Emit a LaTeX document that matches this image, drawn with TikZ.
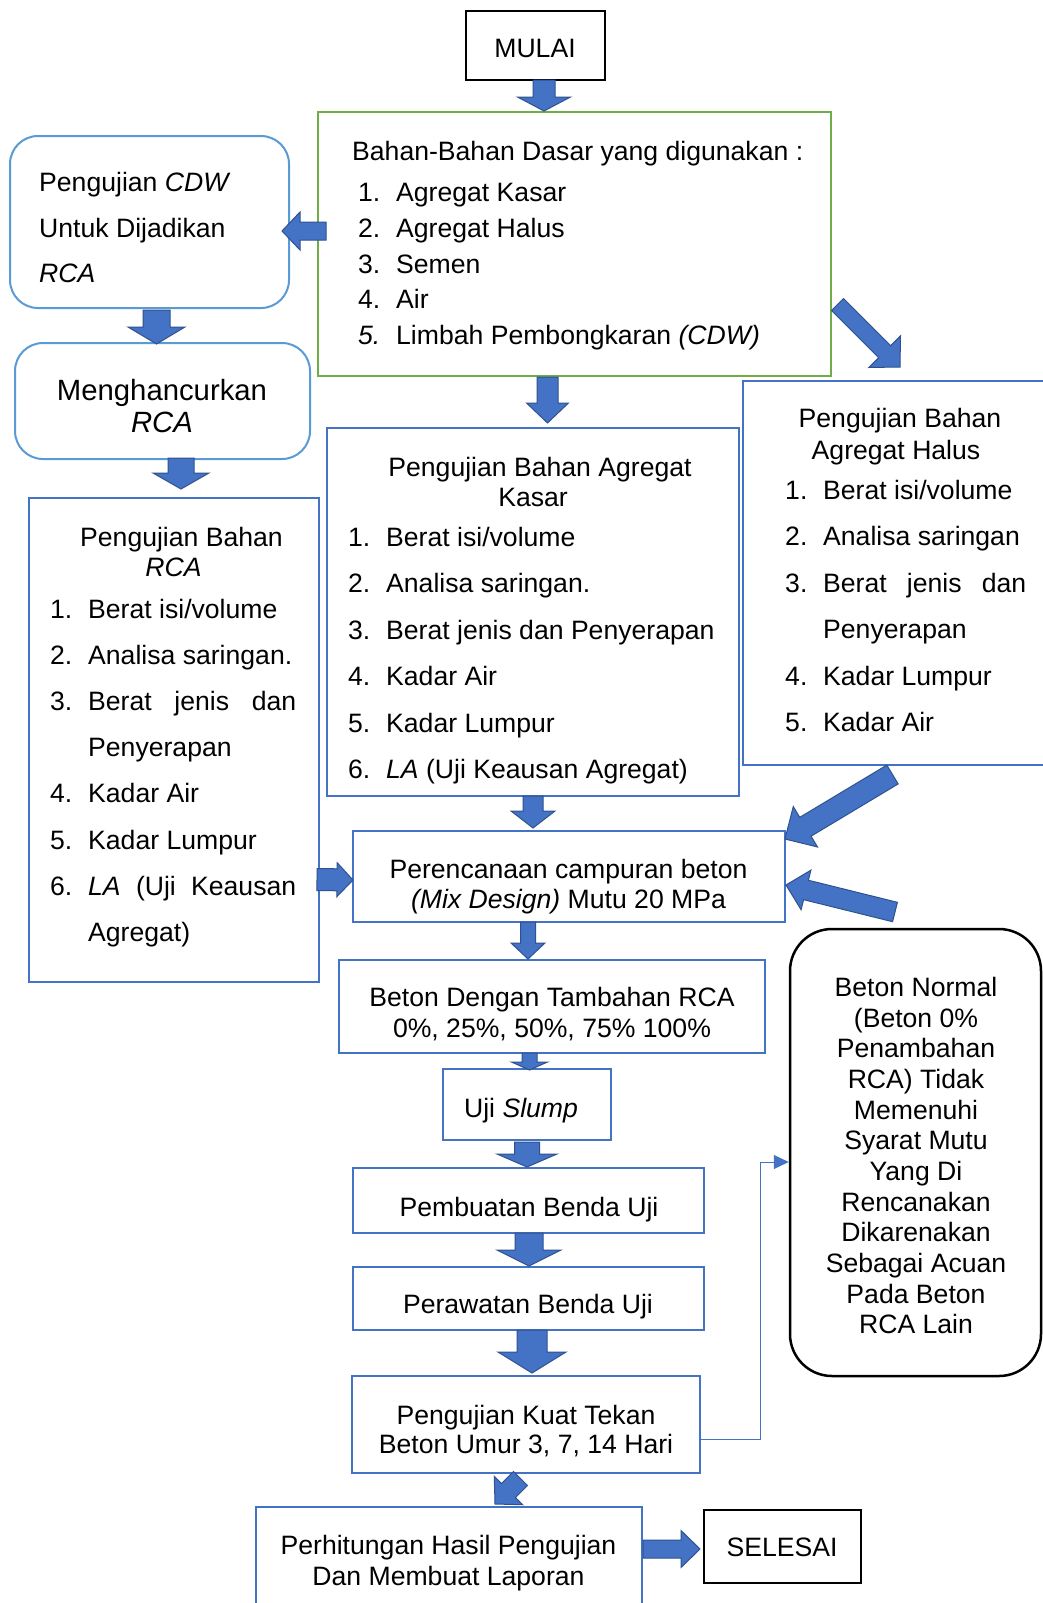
\documentclass[tikz,border=0pt]{standalone}
\usepackage{fontspec}
\setmainfont{Liberation Sans}
\usetikzlibrary{calc,arrows.meta}
\definecolor{bblue}{HTML}{4472C4}
\definecolor{dblue}{HTML}{2F528F}
\definecolor{lblue}{HTML}{5B9BD5}
\definecolor{ggreen}{HTML}{70AD47}
% block arrow: #1 tail, #2 tip, #3 shaft half width, #4 head half width, #5 head length
\newcommand{\blkarrow}[5]{%
  \coordinate (hb) at ($(#2)!#5pt!(#1)$);
  \draw[barr] ($(#1)!#3pt!90:(#2)$) -- ($(hb)!#3pt!-90:(#1)$) -- ($(hb)!#4pt!-90:(#1)$) -- (#2)
     -- ($(hb)!#4pt!90:(#1)$) -- ($(hb)!#3pt!90:(#1)$) -- ($(#1)!#3pt!-90:(#2)$) -- cycle;}
\newcommand{\nm}[1]{\makebox[38pt][l]{#1}}
\newcommand{\fz}[1]{\fontsize{26.6pt}{#1pt}\selectfont}
\begin{document}
\begin{tikzpicture}[x=1pt,y=-1pt,
  bx/.style={draw=bblue, line width=2pt, inner sep=0},
  rbx/.style={draw=lblue, line width=2pt, rounded corners=28pt, inner sep=0},
  kbx/.style={draw=black, line width=2.5pt, inner sep=0},
  gbx/.style={draw=ggreen, line width=2pt, inner sep=0},
  barr/.style={fill=bblue, draw=dblue, line width=1pt, line join=miter},
  conn/.style={draw=bblue, line width=1pt},
  tx/.style={inner sep=0, anchor=base, font=\fz{30.6}},
  tl/.style={inner sep=0, anchor=base west, font=\fz{30.6}}]
\useasboundingbox (0,0) rectangle (1043,1603);
\clip (0,0) rectangle (1043,1603);
\fill[white] (0,0) rectangle (1043,1603);

% ---------- boxes ----------
\node[kbx, minimum width=139pt, minimum height=69pt] (mulai) at (535.5,45.5) {};
\node[gbx, minimum width=513pt, minimum height=264pt] (bahan) at (574.5,244) {};
\node[rbx, minimum width=279pt, minimum height=172pt] (cdw) at (149.5,222) {};
\node[rbx, minimum width=295pt, minimum height=116pt] (meng) at (162.5,401) {};
\node[bx, minimum width=290pt, minimum height=484pt] (rca) at (174,740) {};
\node[bx, minimum width=412pt, minimum height=368pt] (kasar) at (533,612) {};
\node[bx, minimum width=317pt, minimum height=384pt] (halus) at (901.5,573) {};
\node[bx, minimum width=432pt, minimum height=91pt] (per) at (569,876.5) {};
\node[bx, minimum width=426pt, minimum height=93pt] (bd) at (552,1006.5) {};
\node[bx, minimum width=168pt, minimum height=71pt] (uji) at (527,1104.5) {};
\node[bx, minimum width=351pt, minimum height=65pt] (pemb) at (528.5,1200.5) {};
\node[bx, minimum width=351pt, minimum height=63pt] (peraw) at (528.5,1298.5) {};
\node[bx, minimum width=348pt, minimum height=97pt] (kuat) at (526,1424.5) {};
\node[bx, minimum width=386pt, minimum height=113pt] (perh) at (449,1563.5) {};
\node[kbx, minimum width=157pt, minimum height=73pt] (selesai) at (782.5,1546.5) {};
\node[kbx, rounded corners=42pt, minimum width=251pt, minimum height=447pt] (normal) at (915.5,1152.5) {};

% ---------- texts ----------
\node[tx] (mulaitx) at (535,57.8) {MULAI};
\node[tl] (bahanhd) at (352,160.5) {Bahan-Bahan Dasar yang digunakan :};
\node[tl] (bahanls) at (358,201.5) {\parbox[t]{460pt}{\raggedright\fz{35.75}%
  \nm{1.}Agregat Kasar\\
  \nm{2.}Agregat Halus\\
  \nm{3.}Semen\\
  \nm{4.}Air\\
  \nm{\textit{5.}}Limbah Pembongkaran \textit{(CDW)}}};
\node[tl] (cdwtx) at (39,191.5) {\parbox[t]{250pt}{\raggedright\fz{45.5}%
  Pengujian \textit{CDW}\\Untuk Dijadikan\\\textit{RCA}}};
\node[tx] (mengtx) at (162,400.5) {\parbox[t]{290pt}{\centering\fontsize{29.3pt}{32pt}\selectfont
  Menghancurkan\\\textit{RCA}}};
% RCA box
\node[tx] (rcahd1) at (181.5,546.5) {Pengujian Bahan};
\node[tx] (rcahd2) at (173.5,576.5) {\textit{RCA}};
\node[tl] (rcals) at (50,618.5) {\parbox[t]{280pt}{\raggedright\fz{46.1}%
  \nm{1.}Berat isi/volume\\
  \nm{2.}Analisa saringan.\\
  \nm{3.}\makebox[208pt][s]{Berat jenis dan}\\
  \hspace*{38pt}Penyerapan\\
  \nm{4.}Kadar Air\\
  \nm{5.}Kadar Lumpur\\
  \nm{6.}\makebox[208pt][s]{\textit{LA} (Uji Keausan}\\
  \hspace*{38pt}Agregat)}};
% Kasar box
\node[tx] (kashd1) at (540,476.5) {Pengujian Bahan Agregat};
\node[tx] (kashd2) at (533,506.5) {Kasar};
\node[tl] (kasls) at (348,546.5) {\parbox[t]{400pt}{\raggedright\fz{46.4}%
  \nm{1.}Berat isi/volume\\
  \nm{2.}Analisa saringan.\\
  \nm{3.}Berat jenis dan Penyerapan\\
  \nm{4.}Kadar Air\\
  \nm{5.}Kadar Lumpur\\
  \nm{6.}\textit{LA} (Uji Keausan Agregat)}};
% Halus box
\node[tx] (halhd1) at (900,427.5) {Pengujian Bahan};
\node[tx] (halhd2) at (896,459.5) {Agregat Halus};
\node[tl] (halls) at (785,499.5) {\parbox[t]{280pt}{\raggedright\fz{46.4}%
  \nm{1.}Berat isi/volume\\
  \nm{2.}Analisa saringan\\
  \nm{3.}\makebox[203pt][s]{Berat jenis dan}\\
  \hspace*{38pt}Penyerapan\\
  \nm{4.}Kadar Lumpur\\
  \nm{5.}Kadar Air}};
% flow texts
\node[tx] (pertx) at (568.5,878.5) {\parbox[t]{430pt}{\centering\fz{30}%
  Perencanaan campuran beton\\\textit{(Mix Design)} Mutu 20 MPa}};
\node[tx] (bdtx) at (552,1006.5) {\parbox[t]{420pt}{\centering\fz{31}%
  Beton Dengan Tambahan RCA\\0\%, 25\%, 50\%, 75\% 100\%}};
\node[tx] (ujitx) at (521,1117.5) {Uji \textit{Slump}};
\node[tx] (pembtx) at (529,1216.5) {Pembuatan Benda Uji};
\node[tx] (perawtx) at (528,1313.5) {Perawatan Benda Uji};
\node[tx] (kuattx) at (526,1424.5) {\parbox[t]{340pt}{\centering\fz{29}%
  Pengujian Kuat Tekan\\Beton Umur 3, 7, 14 Hari}};
\node[tx] (perhtx) at (448.5,1554.5) {\parbox[t]{380pt}{\centering\fz{31}%
  Perhitungan Hasil Pengujian\\Dan Membuat Laporan}};
\node[tx] (selesaitx) at (782,1556.5) {SELESAI};
\node[tx] (normaltx) at (916,996.5) {\parbox[t]{245pt}{\centering\fz{30.66}%
  Beton Normal\\(Beton 0\%\\Penambahan\\RCA) Tidak\\Memenuhi\\Syarat Mutu\\Yang Di\\Rencanakan\\Dikarenakan\\Sebagai Acuan\\Pada Beton\\RCA Lain}};

% ---------- thin connector ----------
\coordinate (c1) at (kuat.east |- 0,1439);
\coordinate (c2) at (760,1162);
\draw[conn, -{Triangle[length=15pt,width=14pt]}] (c1) -| (c2) -- (normal.west |- c2);

% ---------- block arrows ----------
\coordinate (a1s) at (544,80);      \coordinate (a1e) at (544,111);
\coordinate (a2s) at (326,231);     \coordinate (a2e) at (282,231);
\coordinate (a3s) at (156.5,310);   \coordinate (a3e) at (156.5,344);
\coordinate (a4s) at (837.5,304.5); \coordinate (a4e) at (900,367);
\coordinate (a5s) at (547.5,377);   \coordinate (a5e) at (547.5,423);
\coordinate (a6s) at (181,458);     \coordinate (a6e) at (181,489);
\coordinate (a7s) at (533,796);     \coordinate (a7e) at (533,828);
\coordinate (a8s) at (892.5,774.5); \coordinate (a8e) at (785,839);
\coordinate (a9s) at (895,912);     \coordinate (a9e) at (786,885);
\coordinate (a10s) at (317,879.5);  \coordinate (a10e) at (353,880);
\coordinate (a11s) at (528,922);    \coordinate (a11e) at (528,959);
\coordinate (a12s) at (529.5,1053); \coordinate (a12e) at (529.5,1070);
\coordinate (a13s) at (527,1142);   \coordinate (a13e) at (527,1167);
\coordinate (a14s) at (529,1233);   \coordinate (a14e) at (529,1266);
\coordinate (a15s) at (532,1330);   \coordinate (a15e) at (532,1373);
\coordinate (a16s) at (520.5,1478.5); \coordinate (a16e) at (495,1504);
\coordinate (a17s) at (643,1549);   \coordinate (a17e) at (700,1549);
\blkarrow{a1s}{a1e}{11}{26.5}{14}
\blkarrow{a2s}{a2e}{9}{19}{18}
\blkarrow{a3s}{a3e}{13.5}{28.5}{17}
\blkarrow{a4s}{a4e}{8.5}{22.4}{21.7}
\blkarrow{a5s}{a5e}{10.5}{21}{20}
\blkarrow{a6s}{a6e}{13}{28}{16}
\blkarrow{a7s}{a7e}{10}{22}{17}
\blkarrow{a8s}{a8e}{11}{23.6}{23.8}
\blkarrow{a9s}{a9e}{10}{20.4}{20.6}
\blkarrow{a10s}{a10e}{11}{17}{16}
\blkarrow{a11s}{a11e}{7.5}{17}{16}
\blkarrow{a12s}{a12e}{7.5}{18}{8}
\blkarrow{a13s}{a13e}{12.5}{30}{13}
\blkarrow{a14s}{a14e}{14}{32}{16}
\blkarrow{a15s}{a15e}{15}{34}{21}
\blkarrow{a16s}{a16e}{9.9}{20}{19}
\blkarrow{a17s}{a17e}{9}{18.5}{19}
\end{tikzpicture}
\end{document}
